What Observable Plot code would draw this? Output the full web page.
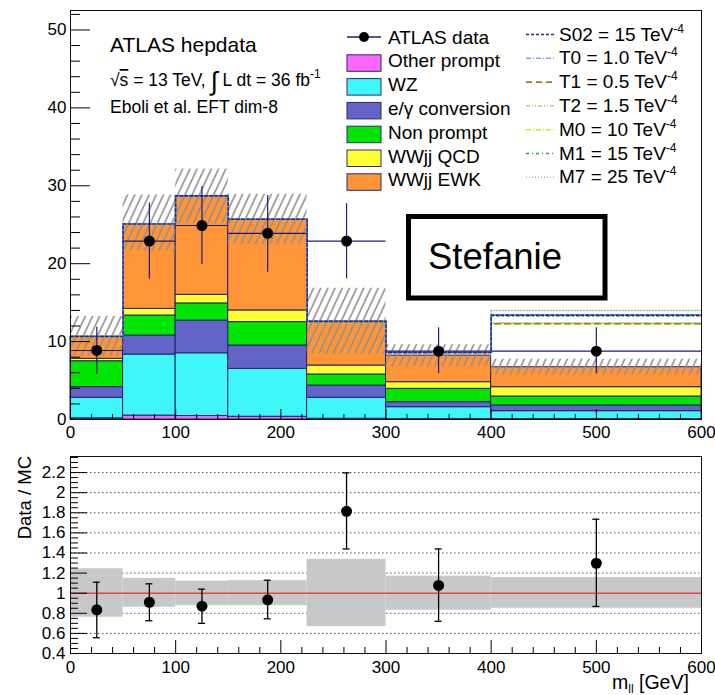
<!DOCTYPE html>
<html><head><meta charset="utf-8">
<script src="https://cdn.jsdelivr.net/npm/d3@7"></script>
<script src="https://cdn.jsdelivr.net/npm/@observablehq/plot@0.6"></script>
<style>
body{margin:0;background:#fff;}
#wrap{position:relative;width:715px;height:695px;overflow:hidden;background:#fff;}
#wrap > svg{position:absolute;left:0;margin:0;}
</style></head><body><div id="wrap"></div>
<script>
// ---- data ----
const binLo = [0, 50, 100, 150, 225, 300, 400];
const binHi = [50, 100, 150, 225, 300, 400, 600];
const binCenter = [25, 75, 125, 187.5, 262.5, 350, 500];

const compNames = ["Other prompt", "WZ", "e/γ conversion", "Non prompt", "WWjj QCD", "WWjj EWK"];
const compColors = ["#ff66ff", "#3ff7f7", "#6464c8", "#00e600", "#ffff33", "#ff9538"];
const otherPrompt = [0.15, 0.5, 0.45, 0.35, 0.1, 0.05, 0.05];
const wz          = [2.64, 7.84, 8.05, 6.15, 2.69, 1.53, 1.02];
const egConv      = [1.36, 2.44, 4.2, 3.0, 1.57, 0.64, 0.73];
const nonPrompt   = [3.33, 2.57, 2.2, 3.0, 1.42, 1.72, 1.15];
const wwQCD       = [0.31, 0.85, 1.1, 1.5, 1.15, 0.85, 1.2];
const wwEWK       = [2.86, 10.9, 12.7, 11.7, 5.67, 3.41, 2.56];

const dataVals = [8.86, 22.9, 24.9, 23.9, 22.9, 8.77, 8.77];
const dataLo   = [5.78, 18.0, 19.9, 18.9, 18.05, 5.87, 5.87];
const dataHi   = [11.85, 27.8, 29.9, 28.75, 27.7, 11.77, 11.77];

const eftNames = ["S02 = 15 TeV", "T0 = 1.0 TeV", "T1 = 0.5 TeV", "T2 = 1.5 TeV", "M0 = 10 TeV", "M1 = 15 TeV", "M7 = 25 TeV"];
const eftS02 = [10.65, 25.1, 28.7, 25.7, 12.6, 8.6, 13.4];
const eftT0  = [10.65, 25.1, 28.7, 25.7, 12.6, 8.6, 13.4];
const eftT1  = [10.65, 25.1, 28.7, 25.7, 12.6, 8.6, 12.3];
const eftT2  = [10.65, 25.1, 28.7, 25.7, 12.6, 8.6, 12.4];
const eftM0  = [10.65, 25.1, 28.7, 25.7, 12.6, 8.6, 12.3];
const eftM1  = [10.65, 25.1, 28.7, 25.7, 12.6, 8.6, 13.3];
const eftM7  = [10.65, 25.1, 28.7, 25.7, 12.6, 8.6, 14.0];
const eftColors = ["#1f2f9a", "#7fa6e6", "#a0782c", "#b9d98f", "#c8ef1c", "#3a9a3a", "#8fd08f"];
const eftDash = ["3,2", "5,2,1,2", "6,4", "4,2,1,2,1,2", "5,2,1,2", "3,3,1,3", "1,2"];

const ratioVals = [0.835, 0.91, 0.871, 0.934, 1.815, 1.077, 1.298];
const ratioLo   = [0.557, 0.726, 0.70, 0.745, 1.44, 0.72, 0.868];
const ratioHi   = [1.109, 1.093, 1.04, 1.129, 2.197, 1.44, 1.736];
const bandLo    = [0.761, 0.86, 0.876, 0.876, 0.667, 0.83, 0.85];
const bandHi    = [1.243, 1.148, 1.12, 1.125, 1.337, 1.17, 1.155];

const xTicks = [0, 100, 200, 300, 400, 500, 600];
const yTicksTop = [0, 10, 20, 30, 40, 50];
const yTicksRatio = [0.4, 0.6, 0.8, 1.0, 1.2, 1.4, 1.6, 1.8, 2.0, 2.2];
const gridRatio = [0.6, 0.8, 1.0, 1.2, 1.4, 1.6, 1.8, 2.0, 2.2];

// ---- derived tables ----
const FONT = "Liberation Sans, Arial, Helvetica, sans-serif";
const NAVY = "#1c1c80";
const idx = d3.range(binLo.length);
const comps = [otherPrompt, wz, egConv, nonPrompt, wwQCD, wwEWK];
const stackRows = [];
idx.forEach(i => comps.forEach((c, k) => stackRows.push({x1: binLo[i], x2: binHi[i], v: c[i], comp: compNames[k]})));
const mcTotal = idx.map(i => d3.sum(comps, c => c[i]));
const eftSeries = [eftM7, eftM1, eftM0, eftT2, eftT1, eftT0, eftS02];
const eftOrder = [6, 5, 4, 3, 2, 1, 0];
const stepPts = vals => idx.map(i => ({x: binLo[i], y: vals[i]})).concat([{x: binHi[binHi.length - 1], y: vals[vals.length - 1]}]);
const minorX = d3.range(0, 601, 20).filter(v => v % 100 !== 0);
const minorYTop = d3.range(0, 52.5, 2).filter(v => v % 10 !== 0);
const minorYRatio = d3.range(0.4, 2.36, 0.05).map(v => +v.toFixed(2)).filter(v => Math.abs(v * 5 - Math.round(v * 5)) > 1e-6);

const wrap = document.getElementById("wrap");

// ---- upper plot ----
const upper = Plot.plot({
  width: 715, height: 446,
  marginLeft: 70, marginRight: 14, marginTop: 10, marginBottom: 27,
  x: {domain: [0, 600]},
  y: {domain: [0, 52.5]},
  color: {domain: compNames, range: compColors},
  style: {fontFamily: FONT, fontSize: "17px", color: "black", background: "white"},
  marks: [
    Plot.rectY(stackRows, {x1: "x1", x2: "x2", y: "v", fill: "comp", stroke: "#20206e", strokeWidth: 1}),
    Plot.rect(idx, {x1: i => binLo[i], x2: i => binHi[i], y1: i => mcTotal[i] * bandLo[i], y2: i => mcTotal[i] * bandHi[i], fill: "url(#hatch)"}),
    ...eftOrder.map((k, j) => Plot.line(stepPts(eftSeries[j]), {x: "x", y: "y", curve: "step-after", stroke: eftColors[k], strokeDasharray: eftDash[k], strokeWidth: 1.6})),
    Plot.ruleY(idx, {y: i => dataVals[i], x1: i => binLo[i], x2: i => binHi[i], stroke: NAVY, strokeWidth: 1.2}),
    Plot.ruleX(idx, {x: i => binCenter[i], y1: i => dataLo[i], y2: i => dataHi[i], stroke: NAVY, strokeWidth: 1.2}),
    Plot.dot(idx, {x: i => binCenter[i], y: i => dataVals[i], r: 5.5, fill: "black"}),
    Plot.frame({stroke: "#111"}),
    Plot.axisX({ticks: xTicks, tickSize: -10, tickFormat: () => "", label: null}),
    Plot.axisX({ticks: minorX, tickSize: -5, tickFormat: () => "", label: null}),
    Plot.axisX({ticks: xTicks, tickSize: 0, tickPadding: 6, fontSize: 17, label: null}),
    Plot.axisY({ticks: yTicksTop, tickSize: -20, tickFormat: () => "", label: null}),
    Plot.axisY({ticks: minorYTop, tickSize: -10, tickFormat: () => "", label: null}),
    Plot.axisY({ticks: yTicksTop, tickSize: 0, tickPadding: 4, fontSize: 17, label: null})
  ]
});
upper.style.top = "0px";
wrap.appendChild(upper);
{
  const defs = d3.select(upper).insert("defs", ":first-child");
  const pat = defs.append("pattern").attr("id", "hatch").attr("patternUnits", "userSpaceOnUse")
    .attr("width", 6.5).attr("height", 10).attr("patternTransform", "rotate(25)");
  pat.append("line").attr("x1", 3).attr("y1", -1).attr("x2", 3).attr("y2", 11)
    .attr("stroke", "#8f8f8f").attr("stroke-width", 1.6);
}

// ---- lower (ratio) plot ----
const fmt = d => String(+d.toFixed(1));
const lower = Plot.plot({
  width: 715, height: 249,
  marginLeft: 70, marginRight: 14, marginTop: 10, marginBottom: 42,
  x: {domain: [0, 600]},
  y: {domain: [0.4, 2.36]},
  style: {fontFamily: FONT, fontSize: "17px", color: "black", background: "white"},
  marks: [
    Plot.ruleY(gridRatio, {stroke: "#555", strokeDasharray: "1.5,2.5", strokeWidth: 1}),
    Plot.rect(idx, {x1: i => binLo[i], x2: i => binHi[i], y1: i => bandLo[i], y2: i => bandHi[i], fill: "#c8c8c8"}),
    Plot.ruleY([1], {stroke: "#e8443a", strokeWidth: 1.6}),
    Plot.ruleX(idx, {x: i => binCenter[i], y1: i => ratioLo[i], y2: i => ratioHi[i], stroke: "black", strokeWidth: 1.3}),
    Plot.ruleY(idx, {y: i => ratioHi[i], x1: i => binCenter[i], x2: i => binCenter[i], insetLeft: -3.5, insetRight: -3.5, stroke: "black", strokeWidth: 1.3}),
    Plot.ruleY(idx, {y: i => ratioLo[i], x1: i => binCenter[i], x2: i => binCenter[i], insetLeft: -3.5, insetRight: -3.5, stroke: "black", strokeWidth: 1.3}),
    Plot.dot(idx, {x: i => binCenter[i], y: i => ratioVals[i], r: 5.5, fill: "black"}),
    Plot.frame({stroke: "#111"}),
    Plot.axisX({ticks: xTicks, tickSize: -13, tickFormat: () => "", label: null}),
    Plot.axisX({ticks: minorX, tickSize: -6, tickFormat: () => "", label: null}),
    Plot.axisX({ticks: xTicks, tickSize: 0, tickPadding: 7, fontSize: 17, label: null}),
    Plot.axisY({ticks: yTicksRatio, tickSize: -17, tickFormat: () => "", label: null}),
    Plot.axisY({ticks: minorYRatio, tickSize: -8, tickFormat: () => "", label: null}),
    Plot.axisY({ticks: yTicksRatio, tickSize: 0, tickPadding: 5, fontSize: 17, tickFormat: fmt, label: null})
  ]
});
lower.style.top = "446px";
wrap.appendChild(lower);

// ---- overlay: texts, legend, annotation ----
const ov = d3.select(wrap).append("svg").attr("width", 715).attr("height", 695)
  .style("position", "absolute").style("left", "0px").style("top", "0px")
  .style("pointer-events", "none").style("font-family", FONT);

ov.append("text").attr("x", 110).attr("y", 51.7).attr("font-size", 21).text("ATLAS hepdata");
{
  const t = ov.append("text").attr("x", 110).attr("y", 86).attr("font-size", 17.5);
  t.append("tspan").text("√");
  t.append("tspan").attr("text-decoration", "overline").text("s");
  t.append("tspan").text(" = 13 TeV, ");
  t.append("tspan").attr("font-size", 26).attr("dy", 4).text("∫");
  t.append("tspan").attr("dy", -4).text(" L dt = 36 fb");
  t.append("tspan").attr("font-size", 12).attr("dy", -8).text("-1");
}
ov.append("text").attr("x", 110).attr("y", 112.7).attr("font-size", 17.5).text("Eboli et al. EFT dim-8");

// legend left column
const legL = ["ATLAS data"].concat(compNames);
legL.forEach((name, i) => {
  const yb = 43.5 + 23.8 * i;
  if (i === 0) {
    ov.append("line").attr("x1", 347).attr("x2", 381).attr("y1", yb - 6.5).attr("y2", yb - 6.5).attr("stroke", NAVY).attr("stroke-width", 1.3);
    ov.append("circle").attr("cx", 364).attr("cy", yb - 6.5).attr("r", 5).attr("fill", "black");
  } else {
    ov.append("rect").attr("x", 347).attr("y", yb - 12.5).attr("width", 34).attr("height", 16.5)
      .attr("fill", compColors[i - 1]).attr("stroke", "#2a2a6a").attr("stroke-width", 1);
  }
  ov.append("text").attr("x", 388).attr("y", yb).attr("font-size", 19).text(name);
});
// legend right column
eftNames.forEach((name, i) => {
  const yb = 40.5 + 23.8 * i;
  ov.append("line").attr("x1", 526).attr("x2", 556).attr("y1", yb - 6).attr("y2", yb - 6)
    .attr("stroke", eftColors[i]).attr("stroke-width", 1.6).attr("stroke-dasharray", eftDash[i]);
  const t = ov.append("text").attr("x", 559).attr("y", yb).attr("font-size", 19);
  t.append("tspan").text(name);
  t.append("tspan").attr("font-size", 12).attr("dy", -8).text("-4");
});

// axis titles
ov.append("text").attr("transform", "translate(31,456) rotate(-90)").attr("text-anchor", "end")
  .attr("font-size", 18.5).text("Data / MC");
{
  const t = ov.append("text").attr("x", 612).attr("y", 689).attr("font-size", 19.5);
  t.append("tspan").text("m");
  t.append("tspan").attr("font-size", 12).attr("dy", 4).text("ll");
  t.append("tspan").attr("dy", -4).text(" [GeV]");
}

// annotation box
ov.append("rect").attr("x", 408.5).attr("y", 216.5).attr("width", 196.5).attr("height", 81.5)
  .attr("fill", "white").attr("stroke", "black").attr("stroke-width", 5);
ov.append("text").attr("x", 428).attr("y", 269).attr("font-size", 36.5).text("Stefanie");
</script></body></html>
